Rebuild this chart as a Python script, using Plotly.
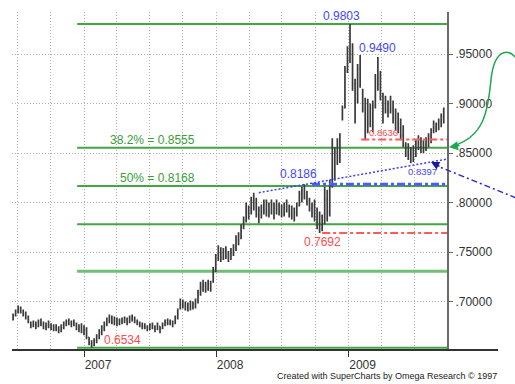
import pandas as pd
import plotly.graph_objects as go

# ---------------- data (weekly OHLC) ----------------
dates = pd.date_range("2006-06-19", periods=171, freq="7D")

high = [
    0.688, 0.692, 0.696, 0.695, 0.692, 0.690, 0.686, 0.680, 0.681, 0.680,
    0.682, 0.683, 0.680, 0.679, 0.681, 0.678, 0.677, 0.677, 0.675, 0.677,
    0.680, 0.682, 0.683, 0.681, 0.682, 0.679, 0.677, 0.678, 0.676, 0.674,
    0.664, 0.661, 0.663, 0.667, 0.672, 0.676, 0.680, 0.684, 0.687, 0.686,
    0.685, 0.684, 0.683, 0.684, 0.685, 0.684, 0.686, 0.687, 0.685, 0.682,
    0.680, 0.679, 0.678, 0.676, 0.678, 0.679, 0.676, 0.679, 0.675, 0.679,
    0.682, 0.683, 0.682, 0.681, 0.686, 0.693, 0.703, 0.702, 0.700, 0.699,
    0.701, 0.700, 0.703, 0.712, 0.720, 0.722, 0.720, 0.722, 0.721, 0.735,
    0.748, 0.757, 0.755, 0.754, 0.756, 0.751, 0.754, 0.758, 0.767, 0.770,
    0.778, 0.786, 0.800, 0.797, 0.806, 0.810, 0.805, 0.796, 0.798, 0.803,
    0.803, 0.800, 0.803, 0.800, 0.803, 0.800, 0.798, 0.800, 0.803, 0.798,
    0.797, 0.795, 0.800, 0.812, 0.816, 0.8186, 0.812, 0.805, 0.800, 0.803,
    0.795, 0.791, 0.788, 0.816, 0.813, 0.823, 0.865, 0.856, 0.865, 0.870,
    0.898, 0.938, 0.958, 0.9803, 0.961, 0.925, 0.940, 0.949, 0.915, 0.906,
    0.905, 0.900, 0.903, 0.930, 0.947, 0.933, 0.911, 0.908, 0.903, 0.908,
    0.903, 0.895, 0.891, 0.885, 0.878, 0.861, 0.860, 0.856, 0.858, 0.863,
    0.868, 0.866, 0.863, 0.866, 0.870, 0.875, 0.883, 0.881, 0.885, 0.890, 0.896,
]
low = [
    0.681, 0.685, 0.688, 0.688, 0.685, 0.682, 0.678, 0.673, 0.674, 0.672,
    0.674, 0.675, 0.672, 0.671, 0.673, 0.671, 0.670, 0.670, 0.668, 0.669,
    0.672, 0.675, 0.676, 0.674, 0.675, 0.671, 0.669, 0.668, 0.666, 0.662,
    0.656, 0.6534, 0.655, 0.658, 0.662, 0.666, 0.670, 0.675, 0.678, 0.677,
    0.676, 0.675, 0.676, 0.677, 0.678, 0.676, 0.678, 0.680, 0.678, 0.676,
    0.674, 0.672, 0.672, 0.670, 0.671, 0.672, 0.669, 0.671, 0.668, 0.672,
    0.675, 0.676, 0.676, 0.674, 0.677, 0.682, 0.692, 0.693, 0.691, 0.690,
    0.691, 0.692, 0.693, 0.698, 0.706, 0.710, 0.709, 0.711, 0.710, 0.719,
    0.730, 0.741, 0.740, 0.742, 0.743, 0.740, 0.742, 0.746, 0.751, 0.757,
    0.763, 0.773, 0.780, 0.783, 0.788, 0.792, 0.785, 0.779, 0.784, 0.788,
    0.786, 0.785, 0.788, 0.783, 0.788, 0.787, 0.785, 0.786, 0.790, 0.785,
    0.783, 0.781, 0.786, 0.796, 0.800, 0.803, 0.797, 0.791, 0.785, 0.781,
    0.773, 0.7692, 0.771, 0.778, 0.781, 0.786, 0.815, 0.822, 0.838, 0.840,
    0.883, 0.895, 0.931, 0.941, 0.913, 0.880, 0.900, 0.916, 0.891, 0.863,
    0.870, 0.876, 0.871, 0.895, 0.913, 0.903, 0.880, 0.890, 0.886, 0.890,
    0.880, 0.873, 0.870, 0.863, 0.856, 0.846, 0.843, 0.8397, 0.841, 0.846,
    0.853, 0.850, 0.850, 0.852, 0.856, 0.860, 0.870, 0.871, 0.873, 0.876, 0.880,
]
opens = [
    0.683, 0.686, 0.690, 0.693, 0.690, 0.687, 0.684, 0.679, 0.676, 0.677,
    0.675, 0.679, 0.677, 0.674, 0.676, 0.675, 0.673, 0.674, 0.672, 0.671,
    0.674, 0.678, 0.680, 0.678, 0.679, 0.677, 0.673, 0.674, 0.670, 0.672,
    0.664, 0.658, 0.657, 0.661, 0.665, 0.669, 0.674, 0.677, 0.681, 0.683,
    0.679, 0.681, 0.678, 0.680, 0.681, 0.683, 0.679, 0.683, 0.682, 0.680,
    0.678, 0.676, 0.675, 0.674, 0.673, 0.676, 0.674, 0.672, 0.675, 0.673,
    0.676, 0.679, 0.678, 0.680, 0.678, 0.684, 0.693, 0.697, 0.696, 0.694,
    0.697, 0.695, 0.698, 0.700, 0.709, 0.714, 0.716, 0.713, 0.718, 0.721,
    0.731, 0.744, 0.748, 0.745, 0.750, 0.746, 0.748, 0.751, 0.755, 0.762,
    0.765, 0.775, 0.782, 0.791, 0.795, 0.802, 0.796, 0.788, 0.792, 0.795,
    0.791, 0.798, 0.790, 0.799, 0.794, 0.797, 0.791, 0.795, 0.797, 0.792,
    0.788, 0.794, 0.790, 0.797, 0.809, 0.812, 0.806, 0.800, 0.794, 0.797,
    0.785, 0.780, 0.786, 0.780, 0.803, 0.790, 0.820, 0.830, 0.851, 0.845,
    0.885, 0.896, 0.933, 0.945, 0.950, 0.920, 0.910, 0.935, 0.910, 0.895,
    0.890, 0.880, 0.895, 0.898, 0.925, 0.920, 0.908, 0.895, 0.893, 0.900,
    0.895, 0.885, 0.890, 0.875, 0.868, 0.858, 0.850, 0.848, 0.853, 0.855,
    0.860, 0.856, 0.862, 0.855, 0.864, 0.867, 0.873, 0.876, 0.879, 0.882, 0.887,
]
close = [
    0.686, 0.690, 0.693, 0.690, 0.687, 0.684, 0.679, 0.676, 0.677, 0.675,
    0.679, 0.677, 0.674, 0.676, 0.675, 0.673, 0.674, 0.672, 0.671, 0.674,
    0.678, 0.680, 0.678, 0.679, 0.677, 0.673, 0.674, 0.670, 0.672, 0.664,
    0.658, 0.657, 0.661, 0.665, 0.669, 0.674, 0.677, 0.681, 0.683, 0.679,
    0.681, 0.678, 0.680, 0.681, 0.683, 0.679, 0.683, 0.682, 0.680, 0.678,
    0.676, 0.675, 0.674, 0.673, 0.676, 0.674, 0.672, 0.675, 0.673, 0.676,
    0.679, 0.678, 0.680, 0.678, 0.684, 0.690, 0.697, 0.696, 0.694, 0.697,
    0.695, 0.698, 0.700, 0.709, 0.714, 0.716, 0.713, 0.718, 0.716, 0.731,
    0.744, 0.748, 0.745, 0.750, 0.746, 0.748, 0.751, 0.755, 0.762, 0.761,
    0.775, 0.782, 0.791, 0.795, 0.802, 0.796, 0.788, 0.792, 0.795, 0.791,
    0.798, 0.790, 0.799, 0.794, 0.797, 0.791, 0.795, 0.797, 0.792, 0.788,
    0.794, 0.790, 0.797, 0.809, 0.812, 0.806, 0.800, 0.794, 0.797, 0.785,
    0.780, 0.786, 0.776, 0.803, 0.790, 0.820, 0.830, 0.851, 0.845, 0.868,
    0.896, 0.933, 0.945, 0.950, 0.920, 0.910, 0.935, 0.920, 0.895, 0.890,
    0.880, 0.895, 0.898, 0.925, 0.920, 0.908, 0.895, 0.893, 0.900, 0.895,
    0.885, 0.890, 0.875, 0.868, 0.858, 0.850, 0.848, 0.853, 0.855, 0.860,
    0.856, 0.862, 0.855, 0.864, 0.867, 0.873, 0.876, 0.879, 0.882, 0.887, 0.894,
]

# Fibonacci retracement levels (0.6534 -> 0.9803)
fib_levels = [0.9803, 0.8555, 0.8168, 0.7781, 0.7306, 0.6534]
fib_start = "2006-12-13"
fib_texts = ["38.2% = 0.8555", "50% = 0.8168"]
fib_text_levels = [0.8555, 0.8168]
fib_text_dates = ["2007-07-08", "2007-07-22"]

# support / resistance marks
red_levels = [0.8636, 0.7692]
red_starts = ["2009-02-05", "2008-10-20"]
blue_level = 0.8186
blue_start = "2008-09-22"
trend_dates = ["2008-04-28", "2009-09-30"]
trend_values = [0.8100, 0.8439]

# price labels: (bar index, value, text, colour, size, xanchor, xshift, yshift)
price_labels = [
    (133, 0.9803, "0.9803", "#4646ff", 12, "center", -9, 8),
    (137, 0.9490, "0.9490", "#4646ff", 12, "left", -3, 7),
    (139, 0.8636, "0.8636", "#ff4a4a", 9.5, "left", 2, 7),
    (157, 0.8397, "0.8397", "#4646ff", 9.5, "left", -5, -8),
    (115, 0.8186, "0.8186", "#4646ff", 12, "center", -6, 10),
    (121, 0.7692, "0.7692", "#ff4a4a", 12, "center", 3, -9),
    (31, 0.6534, "0.6534", "#ff4a4a", 12, "left", 10, 8),
]

y_ticks = [0.70, 0.75, 0.80, 0.85, 0.90, 0.95]
y_tick_text = [".70000", ".75000", ".80000", ".85000", ".90000", ".95000"]
year_ticks = ["2007-01-01", "2008-01-01", "2009-01-01"]
year_labels = ["2007", "2008", "2009"]
quarter_grid = ["2006-07-01", "2006-10-01", "2007-04-01", "2007-07-01", "2007-10-01",
                "2008-04-01", "2008-07-01", "2008-10-01", "2009-04-01", "2009-07-01"]

# ---------------- figure ----------------
W, H = 515, 384
ML, MR, MT, MB = 12, 68, 12, 32
PW, PH = W - ML - MR, H - MT - MB
FONT = "Liberation Sans, Arial, sans-serif"
GRID_DASH = "1px,2px"


def pp(x, y):
    """pixel -> paper coordinates (for decorations outside the plot)"""
    return (x - ML) / PW, (H - MB - y) / PH


fig = go.Figure()
fig.add_trace(go.Ohlc(
    x=dates, open=opens, high=high, low=low, close=close,
    increasing=dict(line=dict(color="#3a3a3a", width=1.7)),
    decreasing=dict(line=dict(color="#3a3a3a", width=1.7)),
    tickwidth=0.35, showlegend=False, hoverinfo="skip",
))

shapes = []
for lv in fib_levels:
    thick = lv == 0.7306
    shapes.append(dict(type="line", xref="x", yref="y", x0=fib_start, x1="2009-09-30",
                       y0=lv, y1=lv, layer="between",
                       line=dict(color="#72be72" if thick else "#44a544", width=3 if thick else 2)))
for lv, st in zip(red_levels, red_starts):
    shapes.append(dict(type="line", xref="x", yref="y", x0=st, x1="2009-09-30",
                       y0=lv, y1=lv, layer="above",
                       line=dict(color="#ff5a5a", width=2, dash="8px,3px,3px,3px")))
shapes.append(dict(type="line", xref="x", yref="y", x0=blue_start, x1="2009-09-30",
                   y0=blue_level, y1=blue_level, layer="above",
                   line=dict(color="#4a5cff", width=3, dash="8px,3px,3px,3px")))
shapes.append(dict(type="line", xref="x", yref="y", x0=trend_dates[0], x1=trend_dates[1],
                   y0=trend_values[0], y1=trend_values[1], layer="above",
                   line=dict(color="#3a3aff", width=1.5, dash="2px,2px")))
# bottom axis line extending beyond the plot
shapes.append(dict(type="line", xref="paper", yref="paper", x0=0, x1=pp(498, 0)[0],
                   y0=0, y1=0, line=dict(color="#333333", width=2)))
# blue dash-dot pointer line
bx0, by0 = pp(516, 199)
bx1, by1 = pp(440, 168)
shapes.append(dict(type="line", xref="paper", yref="paper", x0=bx0, y0=by0, x1=bx1, y1=by1,
                   line=dict(color="#2a2acc", width=1.5, dash="6px,3px,2px,3px")))
# green curved arrow
pts = [(516, 58), (506, 47), (494, 52), (491, 80), (488, 112), (484, 138), (452, 147)]
pp_pts = [pp(*p) for p in pts]
path = "M {0[0]},{0[1]} C {1[0]},{1[1]} {2[0]},{2[1]} {3[0]},{3[1]} C {4[0]},{4[1]} {5[0]},{5[1]} {6[0]},{6[1]}".format(*pp_pts)
shapes.append(dict(type="path", xref="paper", yref="paper", path=path,
                   line=dict(color="#1fa84e", width=1.5)))

annotations = []
for idx, val, txt, col, sz, xa, xs, ys in price_labels:
    annotations.append(dict(x=dates[idx], y=val, xref="x", yref="y", text=txt,
                            showarrow=False, xanchor=xa, yanchor="middle",
                            xshift=xs, yshift=ys, font=dict(color=col, size=sz, family=FONT)))
for d, lv, txt in zip(fib_text_dates, fib_text_levels, fib_texts):
    annotations.append(dict(x=d, y=lv, xref="x", yref="y", text=txt, showarrow=False,
                            xanchor="center", yanchor="bottom", yshift=-1,
                            font=dict(color="#3a9e3a", size=12, family=FONT)))
# arrow heads
hx, hy = pp(449, 148)
annotations.append(dict(x=hx, y=hy, xref="paper", yref="paper", text="", showarrow=True,
                        ax=12, ay=-2, arrowhead=2, arrowsize=1.2, arrowwidth=1.5,
                        arrowcolor="#1fa84e"))
hx, hy = pp(431, 163)
annotations.append(dict(x=hx, y=hy, xref="paper", yref="paper", text="", showarrow=True,
                        ax=10, ay=5, arrowhead=2, arrowsize=1.1, arrowwidth=1.5,
                        arrowcolor="#1a1a99"))
cx, cy = pp(498, 384)
annotations.append(dict(x=cx, y=cy, xref="paper", yref="paper",
                        text="Created with SuperCharts by Omega Research \u00a9 1997",
                        showarrow=False, xanchor="right", yanchor="bottom", borderpad=0,
                        font=dict(color="#222222", size=9, family=FONT)))

fig.update_layout(
    width=W, height=H,
    margin=dict(l=ML, r=MR, t=MT, b=MB, pad=0),
    paper_bgcolor="white", plot_bgcolor="white",
    font=dict(family=FONT, size=12, color="#333333"),
    showlegend=False,
    shapes=shapes, annotations=annotations,
    xaxis=dict(
        type="date", range=["2006-06-16", "2009-09-30"],
        rangeslider=dict(visible=False),
        tickmode="array", tickvals=year_ticks, ticktext=year_labels,
        ticks="outside", ticklen=6, tickcolor="#333333", tickwidth=1,
        ticklabelshift=14, ticklabelstandoff=-2,
        tickfont=dict(size=12, color="#333333", family=FONT),
        showgrid=True, gridcolor="#b0b0b0", griddash=GRID_DASH, gridwidth=1,
        minor=dict(tickmode="array", tickvals=quarter_grid, showgrid=True,
                   gridcolor="#b0b0b0", griddash=GRID_DASH, gridwidth=1, ticks=""),
        showline=False, zeroline=False, fixedrange=True,
    ),
    yaxis=dict(
        side="right", range=[0.6511, 0.9925],
        tickmode="array", tickvals=y_ticks, ticktext=y_tick_text,
        ticks="outside", ticklen=4, tickcolor="#666666",
        tickfont=dict(size=12, color="#333333", family=FONT),
        showgrid=True, gridcolor="#b0b0b0", griddash=GRID_DASH, gridwidth=1,
        showline=True, linecolor="#6a6a6a", linewidth=2,
        zeroline=False, fixedrange=True,
    ),
)

fig.write_html("out.html", config={"displayModeBar": False},
               post_script="document.body.style.margin='0';")
